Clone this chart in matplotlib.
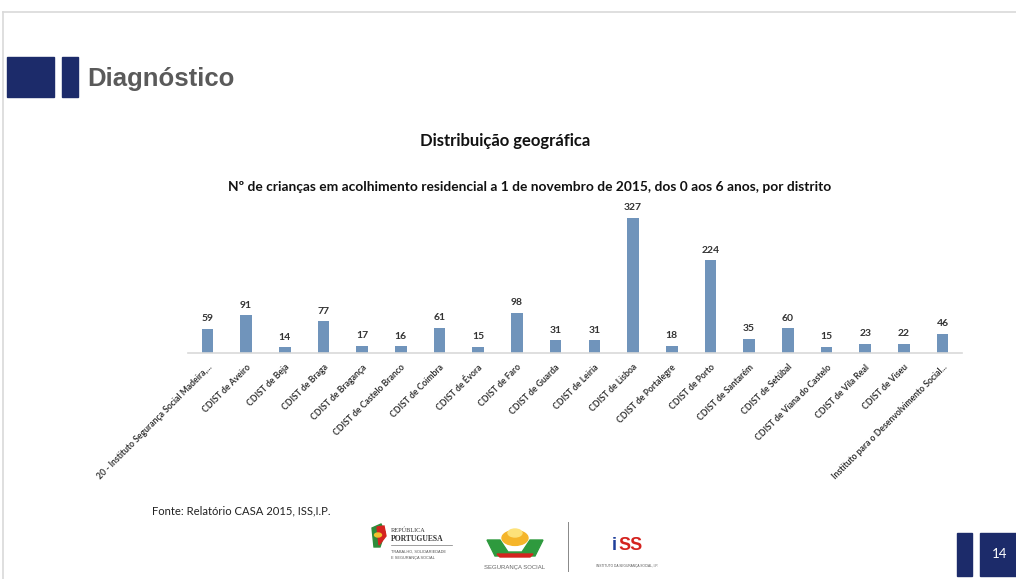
import matplotlib
matplotlib.use("Agg")
import matplotlib.pyplot as plt
from matplotlib.patches import Rectangle, Circle, Polygon
from matplotlib.lines import Line2D

# Districts and number of children in residential care (0-6 years), 1 Nov 2015
districts = [
    "20 - Instituto Segurança Social Madeira,...",
    "CDIST de Aveiro",
    "CDIST de Beja",
    "CDIST de Braga",
    "CDIST de Bragança",
    "CDIST de Castelo Branco",
    "CDIST de Coimbra",
    "CDIST de Évora",
    "CDIST de Faro",
    "CDIST de Guarda",
    "CDIST de Leiria",
    "CDIST de Lisboa",
    "CDIST de Portalegre",
    "CDIST de Porto",
    "CDIST de Santarém",
    "CDIST de Setúbal",
    "CDIST de Viana do Castelo",
    "CDIST de Vila Real",
    "CDIST de Viseu",
    "Instituto para o Desenvolvimento Social...",
]
children = [59, 91, 14, 77, 17, 16, 61, 15, 98, 31, 31, 327, 18, 224, 35, 60, 15, 23, 22, 46]

W, H = 1016, 579
fig = plt.figure(figsize=(W / 100, H / 100), dpi=100)
fig.patch.set_facecolor("white")


def fx(px):
    return px / W


def fy(py):
    return 1 - py / H


def rect_px(x0, y0, x1, y1, **kw):
    fig.patches.append(Rectangle((fx(x0), fy(y1)), fx(x1) - fx(x0), fy(y0) - fy(y1),
                                 transform=fig.transFigure, **kw))


# slide frame
fig.add_artist(Line2D([fx(3), fx(W)], [fy(12), fy(12)], transform=fig.transFigure,
                      color="#d9d9d9", lw=1.2))
fig.add_artist(Line2D([fx(3), fx(3)], [fy(12), fy(H)], transform=fig.transFigure,
                      color="#d9d9d9", lw=1.2))

# header blocks and heading
navy = "#1c2b6a"
rect_px(7, 57, 54, 97, color=navy)
rect_px(62, 57, 78, 97, color=navy)
fig.text(fx(87), fy(79), "Diagnóstico", fontsize=18.5, fontweight="bold",
         color="#5a5a5a", family="Liberation Sans", va="center", ha="left")

# titles
fig.text(fx(505), fy(141), "Distribuição geográfica", fontsize=12, fontweight="bold",
         color="#111111", family="Lato", ha="center", va="center")
fig.text(fx(530), fy(187),
         "Nº de crianças em acolhimento residencial a 1 de novembro de 2015, dos 0 aos 6 anos, por distrito",
         fontsize=9.9, fontweight="bold", color="#111111", family="Lato", ha="center", va="center")

# bar chart
x0, x1, ybase = 188, 962, 353
ymax = 350
ax_h = ymax * 0.413
ax = fig.add_axes([fx(x0), fy(ybase), fx(x1) - fx(x0), ax_h / H])
pos = list(range(len(districts)))
ax.bar(pos, children, width=0.3, color="#7094bb", zorder=2)
ax.set_xlim(-0.5, len(districts) - 0.5)
ax.set_ylim(0, ymax)
for p, v in zip(pos, children):
    ax.annotate(str(v), (p, v), xytext=(0, 4), textcoords="offset points",
                ha="center", va="bottom", fontsize=7.5, fontweight="bold",
                color="#333333", family="Lato")
ax.set_xticks(pos)
ax.set_xticklabels(districts, rotation=45, ha="right", rotation_mode="anchor",
                   fontsize=6.2, fontweight="bold", color="#333333", family="Lato")
ax.tick_params(axis="x", length=0, pad=7)
ax.set_yticks([])
for s in ["top", "right", "left"]:
    ax.spines[s].set_visible(False)
ax.spines["bottom"].set_color("#d9d9d9")
ax.spines["bottom"].set_linewidth(1.2)
ax.patch.set_alpha(0)

# source
fig.text(fx(152), fy(511), "Fonte: Relatório CASA 2015, ISS,I.P.", fontsize=8.1,
         color="#222222", family="Lato", ha="left", va="center")

# República Portuguesa emblem
fig.patches.append(Polygon([(fx(372), fy(528)), (fx(381), fy(524)), (fx(385), fy(532)),
                            (fx(380), fy(547)), (fx(374), fy(547))],
                           closed=True, transform=fig.transFigure, color="#2e8b3a"))
fig.patches.append(Polygon([(fx(377), fy(527)), (fx(384), fy(526)), (fx(386), fy(536)),
                            (fx(379), fy(545))],
                           closed=True, transform=fig.transFigure, color="#d4231f"))
fig.patches.append(Circle((fx(378), fy(535)), 3.5 / W, transform=fig.transFigure,
                          color="#f2c12e"))
fig.text(fx(391), fy(530), "REPÚBLICA", fontsize=4.5, color="#333333",
         family="Liberation Serif", ha="left", va="center")
fig.text(fx(391), fy(539), "PORTUGUESA", fontsize=5.5, fontweight="bold", color="#333333",
         family="Liberation Serif", ha="left", va="center")
fig.add_artist(Line2D([fx(391), fx(452)], [fy(545), fy(545)], transform=fig.transFigure,
                      color="#777777", lw=0.5))
fig.text(fx(391), fy(552), "TRABALHO, SOLIDARIEDADE", fontsize=2.8, color="#555555",
         family="Liberation Sans", ha="left", va="center")
fig.text(fx(391), fy(558), "E SEGURANÇA SOCIAL", fontsize=2.8, color="#555555",
         family="Liberation Sans", ha="left", va="center")

# Segurança Social emblem
fig.patches.append(Circle((fx(515), fy(538)), 13 / W, transform=fig.transFigure,
                          color="#f5b52a"))
fig.patches.append(Circle((fx(515), fy(533)), 7 / W, transform=fig.transFigure,
                          color="#fde27a"))
fig.patches.append(Polygon([(fx(487), fy(540)), (fx(500), fy(540)), (fx(508), fy(552)),
                            (fx(522), fy(552)), (fx(530), fy(540)), (fx(543), fy(540)),
                            (fx(535), fy(556)), (fx(495), fy(556))],
                           closed=True, transform=fig.transFigure, color="#2e9a3e"))
fig.patches.append(Polygon([(fx(497), fy(554)), (fx(533), fy(554)), (fx(530), fy(557)),
                            (fx(500), fy(557))],
                           closed=True, transform=fig.transFigure, color="#d4231f"))
fig.text(fx(515), fy(567), "SEGURANÇA SOCIAL", fontsize=4.3, color="#666666",
         family="Liberation Sans", ha="center", va="center")

# divider and ISS emblem
fig.add_artist(Line2D([fx(568), fx(568)], [fy(522), fy(571)], transform=fig.transFigure,
                      color="#888888", lw=0.7))
fig.text(fx(612), fy(545), "i", fontsize=13, fontweight="bold", color="#1f3f9a",
         family="Liberation Sans", ha="left", va="center")
fig.text(fx(618), fy(545), "SS", fontsize=13, fontweight="bold", color="#d4231f",
         family="Liberation Sans", ha="left", va="center")
fig.text(fx(627), fy(566), "INSTITUTO DA SEGURANÇA SOCIAL, I.P.", fontsize=2.3,
         color="#555555", family="Liberation Sans", ha="center", va="center")

# page number blocks
rect_px(957, 533, 972, 576, color=navy)
rect_px(980, 533, W, 576, color=navy)
fig.text(fx(1000), fy(554), "14", fontsize=9.5, color="white", family="Lato",
         ha="center", va="center")

fig.savefig("out.png", dpi=100, facecolor="white")
